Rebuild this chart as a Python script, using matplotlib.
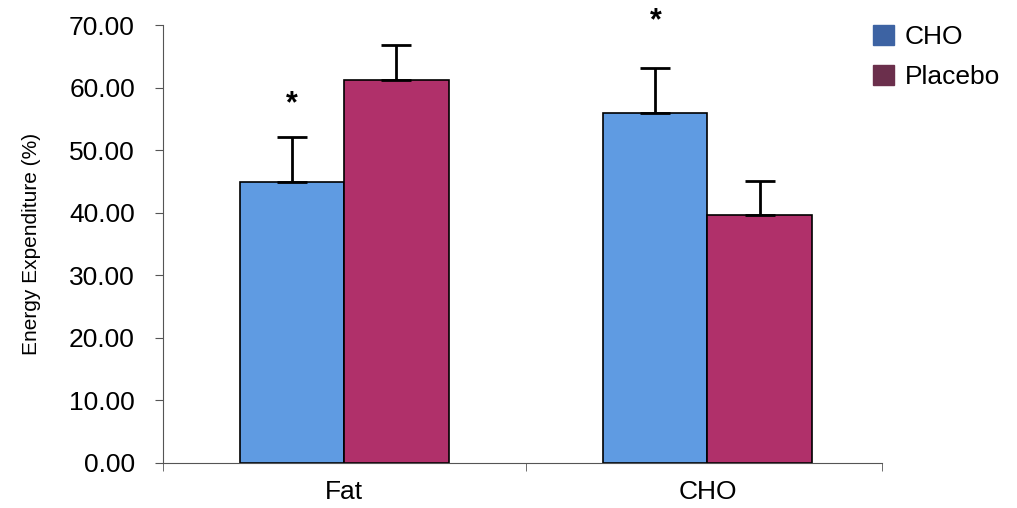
import numpy as np
import matplotlib
matplotlib.use('Agg')
import matplotlib.pyplot as plt
from matplotlib.patches import Patch

# Dữ liệu
categories = ['Fat', 'CHO']
series = ['CHO', 'Placebo']
cho_vals = [44.9, 55.9]
placebo_vals = [61.2, 39.6]
cho_err = [7.2, 7.2]
placebo_err = [5.6, 5.5]
star_y = [57.3, 70.6]  # vị trí dấu * trên cột CHO
yticks = [0, 10, 20, 30, 40, 50, 60, 70]

bar_colors = ['#5f9be2', '#b0306a']
legend_colors = ['#3d63a3', '#6b2f4c']

plt.rcParams['font.family'] = ['Liberation Sans', 'DejaVu Sans']

fig = plt.figure(figsize=(10.17, 5.08), dpi=100)
ax = fig.add_axes([0.160, 0.0886, 0.707, 0.862])

x = np.arange(len(categories))
w = 0.287
ax.bar(x - w / 2, cho_vals, w, color=bar_colors[0], edgecolor='black', linewidth=1.2)
ax.bar(x + w / 2, placebo_vals, w, color=bar_colors[1], edgecolor='black', linewidth=1.2)

# error bar chỉ hướng lên
ax.errorbar(x - w / 2, cho_vals, yerr=[np.zeros(2), cho_err], fmt='none',
            ecolor='black', elinewidth=2, capsize=11, capthick=2)
ax.errorbar(x + w / 2, placebo_vals, yerr=[np.zeros(2), placebo_err], fmt='none',
            ecolor='black', elinewidth=2, capsize=11, capthick=2)

for i in range(len(categories)):
    ax.text(x[i] - w / 2, star_y[i], '*', ha='center', va='center',
            fontsize=22, fontweight='bold', clip_on=False)

ax.set_xlim(-0.5, 1.48)
ax.set_ylim(0, 70)
ax.set_yticks(yticks)
ax.set_yticklabels([f'{v:.2f}' for v in yticks], fontsize=19)
ax.set_xticks(x)
ax.set_xticklabels(categories, fontsize=19)
ax.tick_params(axis='x', length=0, pad=12)
ax.set_xticks([-0.5, 0.5, 1.48], minor=True)
ax.tick_params(axis='x', which='minor', length=6, color='#555555')
ax.tick_params(axis='y', length=6, color='#555555', pad=14)

for s in ['top', 'right']:
    ax.spines[s].set_visible(False)
ax.spines['left'].set_color('#555555')
ax.spines['bottom'].set_color('#555555')

ax.set_ylabel('Energy Expenditure (%)', fontsize=15, labelpad=20)

handles = [Patch(color=legend_colors[0]), Patch(color=legend_colors[1])]
fig.legend(handles, series, loc='upper left', bbox_to_anchor=(0.835, 0.998),
           frameon=False, fontsize=19, handlelength=0.8, handleheight=0.8,
           handletextpad=0.4, labelspacing=0.6)

fig.savefig('out.png', dpi=100)
